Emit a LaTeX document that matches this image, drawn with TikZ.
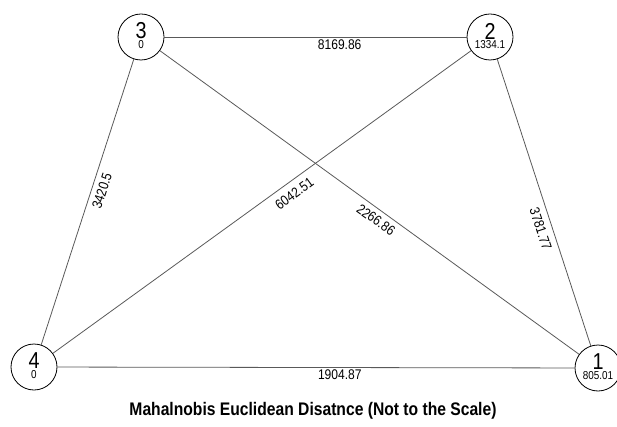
\documentclass[tikz,border=0pt]{standalone}
\usepackage{fontspec}
\setmainfont{Liberation Sans}
\newfontfamily\narrowfont[FakeStretch=0.86]{Liberation Sans}
\usetikzlibrary{positioning}
\begin{document}
\begin{tikzpicture}[x=1pt,y=-1pt,
  vertex/.style={draw,circle,minimum size=46pt,inner sep=0pt,line width=0.8pt},
  vid/.style={font=\narrowfont\fontsize{23}{23}\selectfont,inner sep=0pt},
  vval/.style={font=\narrowfont\fontsize{11.5}{11.5}\selectfont,inner sep=0pt},
  edge/.style={draw=black!65,line width=0.8pt},
  dist/.style={font=\narrowfont\fontsize{14}{14}\selectfont,below,sloped,inner sep=2pt}]
 \useasboundingbox (0,0) rectangle (617,427);
 % vertices
 \node[vertex] (v3) at (141,37) {};
 \node[vertex] (v2) at (490,37) {};
 \node[vertex] (v4) at (34,367) {};
 \node[vertex] (v1) at (598,368) {};
 \node[vid]  (v3id)  at ([yshift=6pt]v3.center) {3};
 \node[vval] (v3val) at ([yshift=-7.5pt]v3.center) {0};
 \node[vid]  (v2id)  at ([yshift=6pt]v2.center) {2};
 \node[vval] (v2val) at ([yshift=-7.5pt]v2.center) {1334.1};
 \node[vid]  (v4id)  at ([yshift=6pt]v4.center) {4};
 \node[vval] (v4val) at ([yshift=-7.5pt]v4.center) {0};
 \node[vid]  (v1id)  at ([yshift=6pt]v1.center) {1};
 \node[vval] (v1val) at ([yshift=-7.5pt]v1.center) {805.01};
 % distances
 \draw[edge] (v3) -- node[dist,pos=0.58] (d32) {8169.86} (v2);
 \draw[edge] (v4) -- node[dist,pos=0.546] (d41) {1904.87} (v1);
 \draw[edge] (v4) -- node[dist,pos=0.55,inner sep=5pt] (d43) {3420.5} (v3);
 \draw[edge] (v4) -- node[dist,pos=0.56,inner sep=7pt] (d42) {6042.51} (v2);
 \draw[edge] (v3) -- node[dist,pos=0.53,inner sep=5pt] (d31) {2266.86} (v1);
 \draw[edge] (v2) -- node[dist,pos=0.58,inner sep=6pt] (d21) {3781.77} (v1);
 % caption
 \node[font=\narrowfont\bfseries\fontsize{18.2}{18.2}\selectfont] (title) at (313,411)
   {Mahalnobis Euclidean Disatnce (Not to the Scale)};
\end{tikzpicture}
\end{document}
